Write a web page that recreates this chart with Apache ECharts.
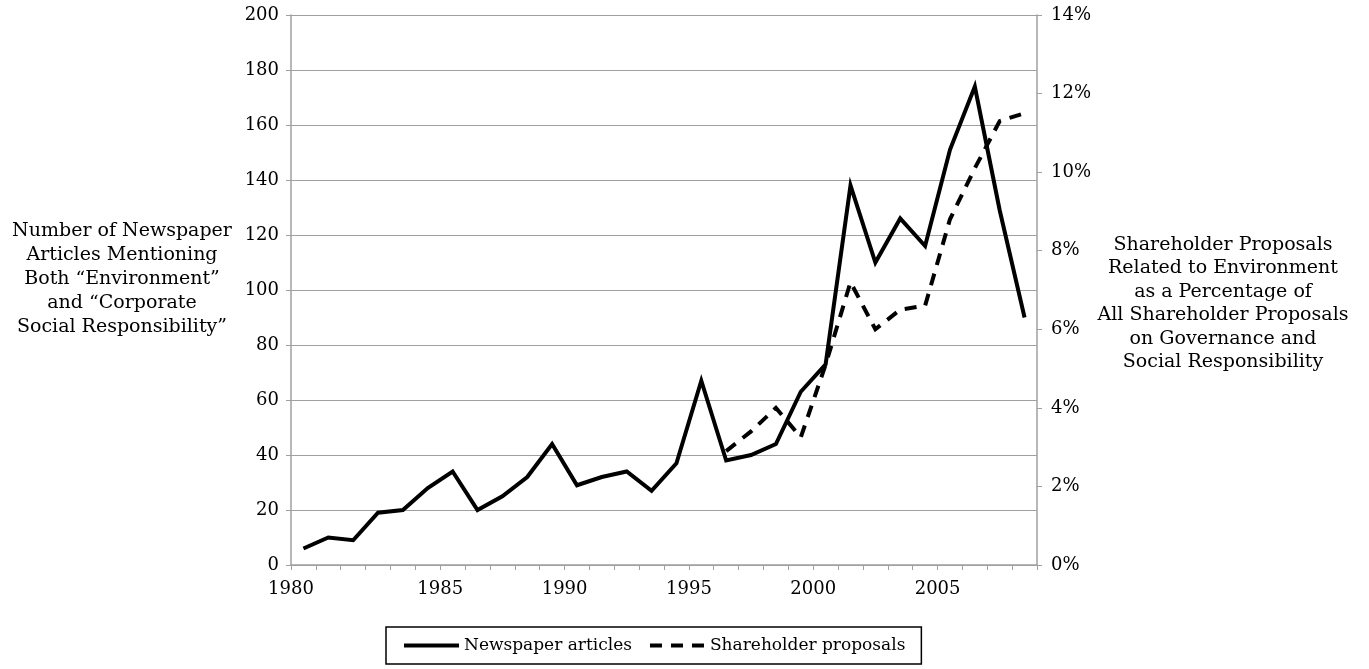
<!DOCTYPE html>
<html>
<head>
<meta charset="utf-8">
<script src="https://cdn.jsdelivr.net/npm/echarts@6/dist/echarts.min.js"></script>
<style>
  html, body { margin: 0; padding: 0; background: #fff; }
  #myChart { width: 1369px; height: 669px; }
</style>
</head>
<body>
<div id="myChart"></div>
<script>
// years on the category axis (one slot per year)
const years = ['1980','1981','1982','1983','1984','1985','1986','1987','1988','1989',
               '1990','1991','1992','1993','1994','1995','1996','1997','1998','1999',
               '2000','2001','2002','2003','2004','2005','2006','2007','2008','2009'];
const xTickLabels = ['1980','1985','1990','1995','2000','2005'];

// number of newspaper articles (left axis)
const newspaperArticles = [6, 10, 9, 19, 20, 28, 34, 20, 25, 32,
                           44, 29, 32, 34, 27, 37, 67, 38, 40, 44,
                           63, 73, 138, 110, 126, 116, 151, 174, 129, 90];
// environment proposals as % of all proposals (right axis)
const shareholderProposals = [null, null, null, null, null, null, null, null, null, null,
                              null, null, null, null, null, null, null, 2.9, 3.4, 4.0,
                              3.25, 5.1, 7.2, 6.0, 6.5, 6.6, 8.8, 10.1, 11.3, 11.5];

const leftName = 'Number of Newspaper\nArticles Mentioning\nBoth \u201cEnvironment\u201d\nand \u201cCorporate\nSocial Responsibility\u201d';
const rightName = 'Shareholder Proposals\nRelated to Environment\nas a Percentage of\nAll Shareholder Proposals\non Governance and\nSocial Responsibility';

const FONT = '"DejaVu Serif", "Liberation Serif", serif';
const GRID_GREY = '#a0a0a0';

let myChart = echarts.init(document.getElementById('myChart'));
let option;

option = {
    backgroundColor: '#fff',
    animation: false,
    textStyle: { fontFamily: FONT, color: '#000' },
    grid: { left: 291, right: 332, top: 15, bottom: 104 },
    legend: {
        left: 386,
        top: 627,
        padding: [10, 16, 10, 16],
        borderColor: '#000',
        borderWidth: 1.5,
        itemWidth: 55,
        itemHeight: 6,
        itemGap: 16,
        itemStyle: { opacity: 0 },   // hide the marker, keep the line sample
        lineStyle: { width: 4 },
        textStyle: { fontFamily: FONT, fontSize: 17, color: '#000' },
        data: ['Newspaper articles', 'Shareholder proposals']
    },
    xAxis: {
        type: 'category',
        data: years,
        boundaryGap: true,
        axisLine: { lineStyle: { color: GRID_GREY, width: 1.5 } },
        axisTick: { show: true, interval: 0, length: 5, lineStyle: { color: GRID_GREY } },
        axisLabel: {
            interval: 0,
            margin: 15,
            fontFamily: FONT,
            fontSize: 18,
            color: '#000',
            // labels sit on the slot boundaries: first one shifted left, the rest right
            formatter: function (val) {
                if (xTickLabels.indexOf(val) < 0) return '';
                return val === xTickLabels[0] ? '{l|' + val + '}' : '{r|' + val + '}';
            },
            rich: {
                l: { fontFamily: FONT, fontSize: 18, color: '#000', padding: [0, 25, 0, 0] },
                r: { fontFamily: FONT, fontSize: 18, color: '#000', padding: [0, 0, 0, 25] }
            }
        }
    },
    yAxis: [{
        type: 'value',
        min: 0,
        max: 200,
        interval: 20,
        axisLine: { show: true, lineStyle: { color: GRID_GREY, width: 1.5 } },
        axisTick: { show: true, length: 5, lineStyle: { color: GRID_GREY } },
        axisLabel: { margin: 12, fontFamily: FONT, fontSize: 18, color: '#000' },
        splitLine: { show: true, lineStyle: { color: GRID_GREY, width: 1.2 } }
    }, {
        type: 'value',
        min: 0,
        max: 14,
        interval: 2,
        position: 'right',
        axisLine: { show: true, lineStyle: { color: GRID_GREY, width: 1.5 } },
        axisTick: { show: true, length: 5, lineStyle: { color: GRID_GREY } },
        axisLabel: { margin: 14, fontFamily: FONT, fontSize: 18, color: '#000', formatter: '{value}%' },
        splitLine: { show: false }
    }],
    graphic: [{
        type: 'text',
        x: 122,
        y: 219,
        style: {
            text: leftName,
            align: 'center',
            verticalAlign: 'top',
            fontFamily: FONT,
            fontSize: 19,
            lineHeight: 24,
            fill: '#000'
        }
    }, {
        type: 'text',
        x: 1223,
        y: 233,
        style: {
            text: rightName,
            align: 'center',
            verticalAlign: 'top',
            fontFamily: FONT,
            fontSize: 19,
            lineHeight: 23.5,
            fill: '#000'
        }
    }],
    series: [{
        name: 'Newspaper articles',
        type: 'line',
        yAxisIndex: 0,
        data: newspaperArticles,
        symbol: 'none',
        color: '#000',
        lineStyle: { color: '#000', width: 4, join: 'miter' }
    }, {
        name: 'Shareholder proposals',
        type: 'line',
        yAxisIndex: 1,
        data: shareholderProposals,
        symbol: 'none',
        color: '#000',
        lineStyle: { color: '#000', width: 4, type: [12, 9], join: 'miter' }
    }]
};

option && myChart.setOption(option);
</script>
</body>
</html>
